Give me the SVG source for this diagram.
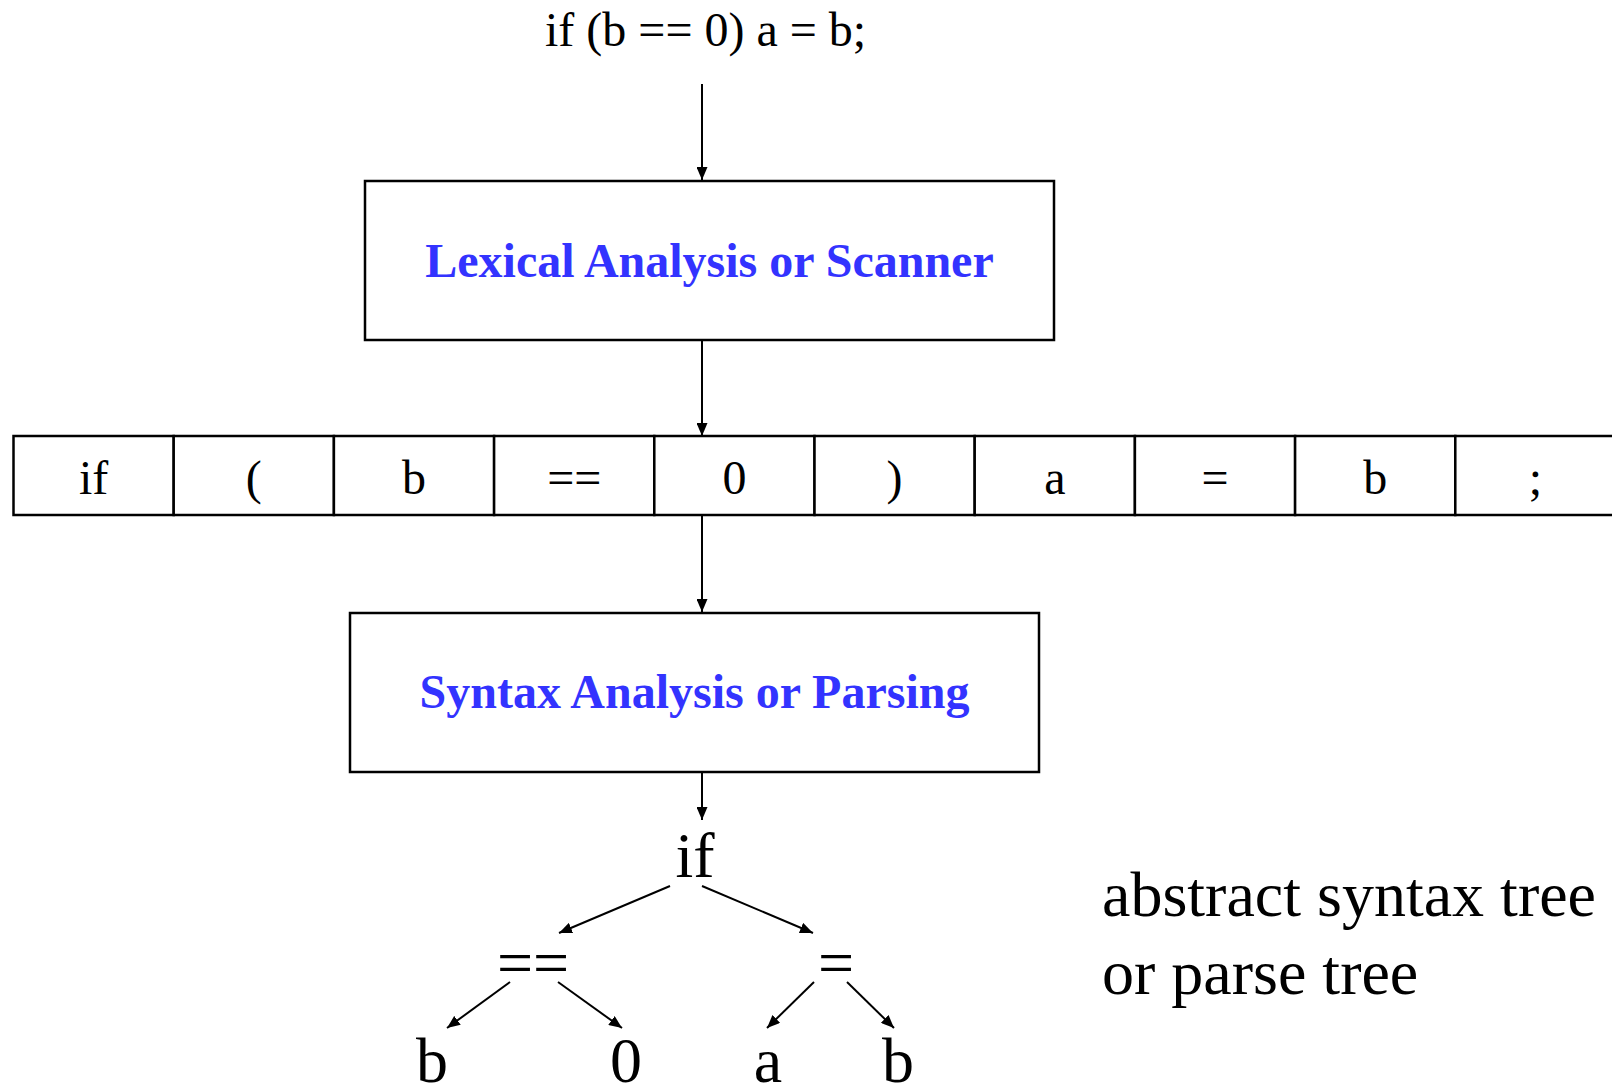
<svg xmlns="http://www.w3.org/2000/svg" width="1612" height="1088" viewBox="0 0 1612 1088">
  <style>
    .txt { font-family: "Liberation Serif", "Times New Roman", serif; fill: #000; }
    .code { font-size: 48px; }
    .tok { font-size: 48px; text-anchor: middle; }
    .tree { font-size: 64px; text-anchor: middle; }
    .note { font-size: 64px; }
    .phase { fill: #fff; stroke: #000; stroke-width: 2.5; }
    .phase-label { font-family: "Liberation Serif", "Times New Roman", serif; font-weight: bold; font-size: 48px; fill: #3333FF; text-anchor: middle; }
    .cell { fill: #fff; stroke: #000; stroke-width: 2.5; }
    .edge { stroke: #000; stroke-width: 2; fill: none; marker-end: url(#arrow); }
  </style>
  <defs>
    <marker id="arrow" markerUnits="userSpaceOnUse" markerWidth="13" markerHeight="11" refX="13" refY="5.5" orient="auto">
      <path d="M0,0 L13,5.5 L0,11 z" fill="#000"/>
    </marker>
  </defs>

  <rect width="1612" height="1088" fill="#fff"/>

  <!-- source statement -->
  <g id="source">
    <text class="txt code" x="545" y="46">if (b == 0) a = b;</text>
  </g>

  <!-- compiler phases -->
  <g id="lexer">
    <rect class="phase" x="365" y="181" width="689" height="159"/>
    <text class="phase-label" x="709.5" y="277">Lexical Analysis or Scanner</text>
  </g>
  <g id="parser">
    <rect class="phase" x="350" y="613" width="689" height="159"/>
    <text class="phase-label" x="694.5" y="708">Syntax Analysis or Parsing</text>
  </g>

  <!-- token stream -->
  <g id="tokens">
    <g id="tok-if"><rect class="cell" x="13.5" y="436" width="160.2" height="79"/><text class="txt tok" x="93.6" y="494">if</text></g>
    <g id="tok-lparen"><rect class="cell" x="173.7" y="436" width="160.2" height="79"/><text class="txt tok" x="253.8" y="494">(</text></g>
    <g id="tok-b1"><rect class="cell" x="333.9" y="436" width="160.2" height="79"/><text class="txt tok" x="414" y="494">b</text></g>
    <g id="tok-eqeq"><rect class="cell" x="494.1" y="436" width="160.2" height="79"/><text class="txt tok" x="574.2" y="494">==</text></g>
    <g id="tok-zero"><rect class="cell" x="654.3" y="436" width="160.2" height="79"/><text class="txt tok" x="734.4" y="494">0</text></g>
    <g id="tok-rparen"><rect class="cell" x="814.5" y="436" width="160.2" height="79"/><text class="txt tok" x="894.6" y="494">)</text></g>
    <g id="tok-a"><rect class="cell" x="974.7" y="436" width="160.2" height="79"/><text class="txt tok" x="1054.8" y="494">a</text></g>
    <g id="tok-assign"><rect class="cell" x="1134.9" y="436" width="160.2" height="79"/><text class="txt tok" x="1215" y="494">=</text></g>
    <g id="tok-b2"><rect class="cell" x="1295.1" y="436" width="160.2" height="79"/><text class="txt tok" x="1375.2" y="494">b</text></g>
    <g id="tok-semi"><rect class="cell" x="1455.3" y="436" width="160.2" height="79"/><text class="txt tok" x="1535.4" y="494">;</text></g>
  </g>

  <!-- syntax tree nodes -->
  <g id="ast-if"><text class="txt tree" x="695" y="877">if</text></g>
  <g id="ast-eqeq"><text class="txt tree" x="533" y="984">==</text></g>
  <g id="ast-assign"><text class="txt tree" x="836" y="984">=</text></g>
  <g id="ast-b1"><text class="txt tree" x="432" y="1082">b</text></g>
  <g id="ast-zero"><text class="txt tree" x="626" y="1082">0</text></g>
  <g id="ast-a"><text class="txt tree" x="768" y="1082">a</text></g>
  <g id="ast-b2"><text class="txt tree" x="898" y="1082">b</text></g>

  <!-- caption -->
  <g id="caption">
    <text class="txt note" x="1102" y="916">abstract syntax tree</text>
    <text class="txt note" x="1102" y="994">or parse tree</text>
  </g>

  <!-- connectors -->
  <g id="connectors">
    <line class="edge" x1="702" y1="84" x2="702" y2="180"/>
    <line class="edge" x1="702" y1="340" x2="702" y2="436"/>
    <line class="edge" x1="702" y1="515" x2="702" y2="612"/>
    <line class="edge" x1="702" y1="772" x2="702" y2="820"/>
    <line class="edge" x1="670" y1="886" x2="559" y2="933"/>
    <line class="edge" x1="702" y1="886" x2="813" y2="933"/>
    <line class="edge" x1="510" y1="982" x2="447" y2="1028"/>
    <line class="edge" x1="558" y1="982" x2="622" y2="1028"/>
    <line class="edge" x1="814" y1="982" x2="767" y2="1028"/>
    <line class="edge" x1="847" y1="982" x2="894" y2="1028"/>
  </g>
</svg>
